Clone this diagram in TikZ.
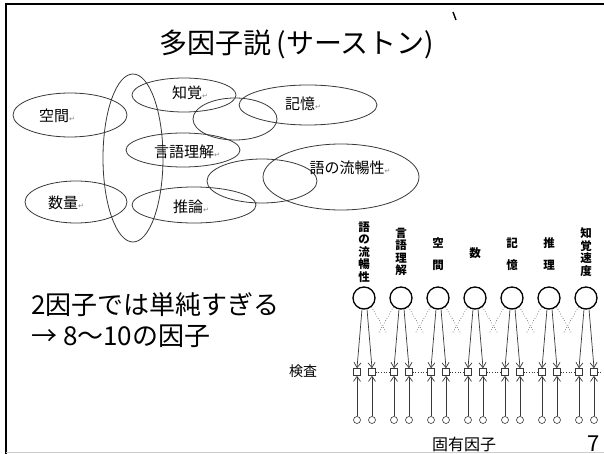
\documentclass[tikz,border=0pt]{standalone}
\usepackage{fontspec}
\setmainfont{Noto Sans CJK JP}
\newfontfamily\symfont{DejaVu Sans}
\usetikzlibrary{arrows.meta}
\definecolor{inkgray}{rgb}{0.22, 0.22, 0.22}
\definecolor{rulegray}{rgb}{0.80, 0.80, 0.80}
\newcommand{\ret}{{\symfont\color{gray}\fontsize{7}{7}\selectfont ↵}}

\begin{document}
\begin{tikzpicture}[x=1pt,y=-1pt,
  blob/.style={draw=inkgray,line width=0.8pt},
  lbl/.style={inner sep=0,font=\fontsize{15}{15}\selectfont},
  tate/.style={inner sep=0,align=center,font=\fontsize{11.5}{12.5}\selectfont\bfseries},
  factor/.style={circle,draw,line width=1.3pt,minimum size=22pt,inner sep=0},
  test/.style={rectangle,draw=inkgray,line width=0.6pt,minimum size=7pt,inner sep=0},
  unique/.style={circle,draw=inkgray,line width=0.6pt,minimum size=7pt,inner sep=0},
  load/.style={draw=inkgray,line width=0.7pt,-{Straight Barb[length=5pt,width=7pt]}},
  corr/.style={draw=inkgray,line width=0.6pt,dotted}]
\useasboundingbox (0,0) rectangle (604,454);
\draw[line width=2.5pt] (6,454) -- (6,4) -- (604,4);
\draw[rulegray,line width=1pt] (6,452) -- (604,452);

\node[font=\fontsize{28}{28}\selectfont] (title) at (297,44) {多因子説\,(サーストン)};
\draw[line width=1.4pt] (453,12) -- (456,20);

% Thurstone's overlapping abilities
\draw[blob] (133,158) ellipse (30pt and 84pt);
\draw[blob] (70,115) ellipse (57pt and 22pt);
\draw[blob] (184,95) ellipse (52pt and 17pt);
\draw[blob] (235,119) ellipse (42pt and 21pt);
\draw[blob] (308,105) ellipse (69pt and 20pt);
\draw[blob] (183,150) ellipse (57pt and 17pt);
\draw[blob] (262,181) ellipse (55pt and 22pt);
\draw[blob] (341,177) ellipse (78pt and 33pt);
\draw[blob] (76,202) ellipse (51pt and 21pt);
\draw[blob] (194,205) ellipse (62pt and 18pt);

\node[lbl] (kukan) at (57,116) {空間\ret};
\node[lbl] (chikaku) at (190,93) {知覚\ret};
\node[lbl] (kioku) at (303,104) {記憶\ret};
\node[lbl] (gengo) at (187,152) {言語理解\ret};
\node[lbl] (ryuchou) at (350,168) {語の流暢性\ret};
\node[lbl] (suuryou) at (66,203) {数量\ret};
\node[lbl] (suiron) at (191,207) {推論\ret};

\node[anchor=west,align=left,inner sep=0,font=\fontsize{26}{31}\selectfont] (claim) at (31,320)
  {2因子では単純すぎる\\→ 8〜10の因子};

% factor model
\node[tate] (n1) at (364,252) {語\\の\\流\\暢\\性};
\node[tate] (n2) at (401,252) {言\\語\\理\\解};
\node[tate] (n3) at (438,254) {空\\[9.5pt]間};
\node[tate] (n4) at (475,253) {数};
\node[tate] (n5) at (512,254) {記\\[9.5pt]憶};
\node[tate] (n6) at (549,254) {推\\[9.5pt]理};
\node[tate] (n7) at (586,252) {知\\覚\\速\\度};

\foreach \i in {1,...,7}{
  \node[factor] (f\i) at ({327+37*\i},298) {};
  \node[test] (sl\i) at ({320+37*\i},372) {};
  \node[test] (sr\i) at ({335+37*\i},372) {};
  \node[unique] (ul\i) at ({320+37*\i},420) {};
  \node[unique] (ur\i) at ({335+37*\i},420) {};
  \draw[load] (f\i.-100) -- (sl\i.north);
  \draw[load] (f\i.-75) -- (sr\i.north);
  \draw[load] (ul\i) -- (sl\i);
  \draw[load] (ur\i) -- (sr\i);
}
\foreach \i [evaluate=\i as \j using int(\i+1)] in {1,...,6}{
  \coordinate (xa\i) at ({349.5+37*\i},333);
  \coordinate (xb\i) at ({341.5+37*\i},333);
  \draw[corr] (f\i.-50) -- (xa\i);
  \draw[corr] (f\j.-130) -- (xb\i);
  \draw[corr] (sr\i.east) -- (sl\j.west);
}
\coordinate (stub) at (602,372);
\draw[corr] (sr7.east) -- (stub);

\node[font=\fontsize{14}{14}\selectfont] (kensa) at (303,371) {検査};
\node[font=\fontsize{16}{16}\selectfont] (koyuu) at (464,444) {固有因子};
\node[font=\fontsize{22}{22}\selectfont] (page) at (594,444) {7};
\end{tikzpicture}
\end{document}
